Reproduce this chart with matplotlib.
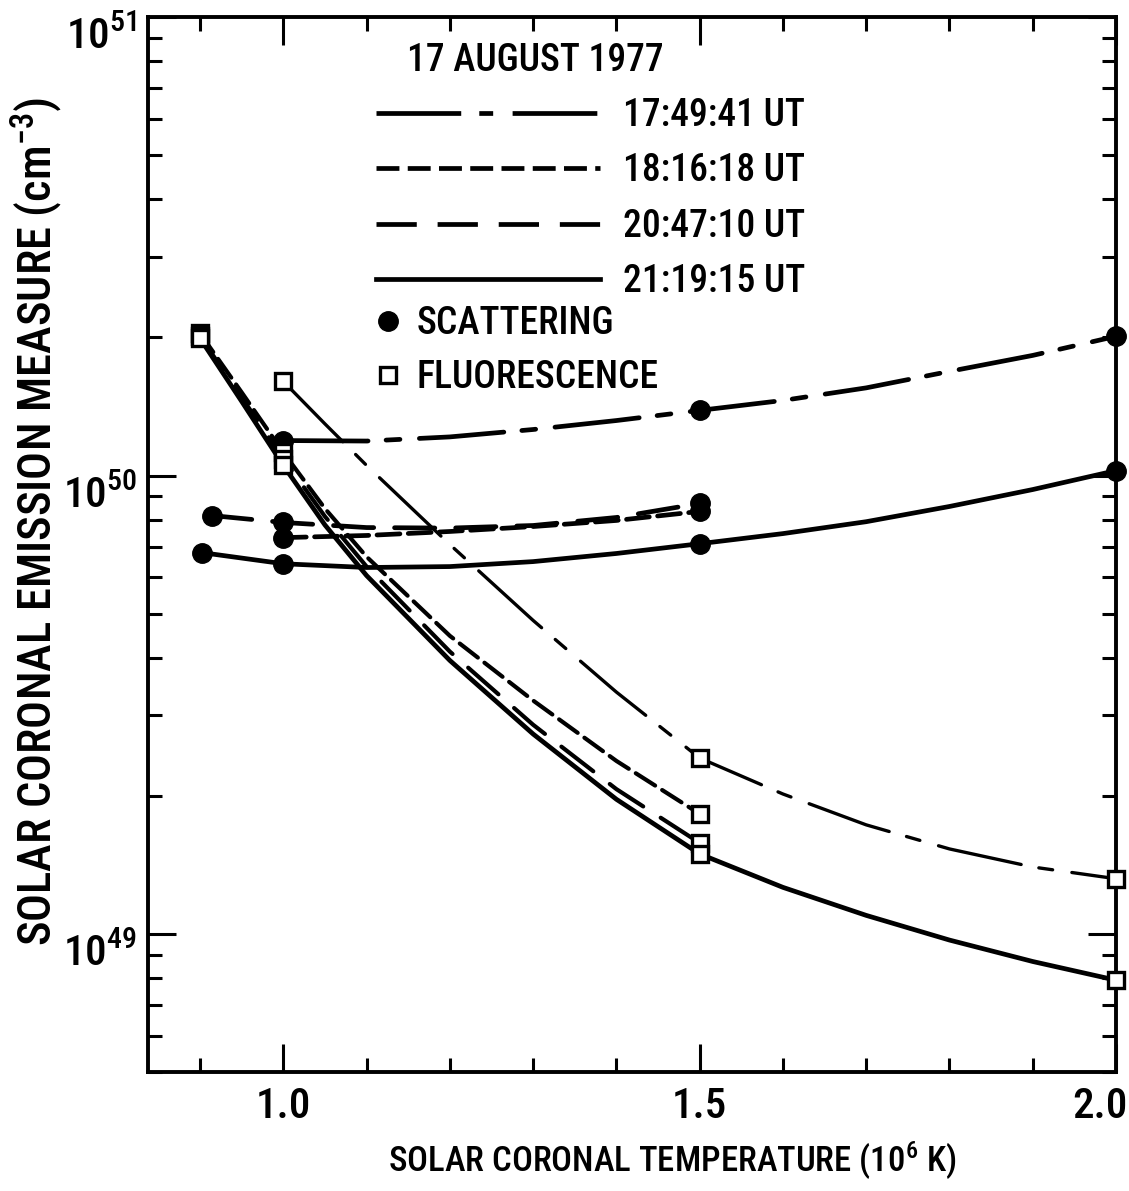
import math
import matplotlib
matplotlib.use("Agg")
import matplotlib.pyplot as plt
from matplotlib import font_manager
from matplotlib.lines import Line2D
from matplotlib.transforms import ScaledTranslation
from matplotlib.ticker import FixedLocator, LogLocator, FuncFormatter, NullFormatter

# busco la font mes estreta que hi hagi (la figura original es molt condensada)
noms = {f.name for f in font_manager.fontManager.ttflist}
FONT, K = 'DejaVu Sans', 0.78
for nom, k in [('Roboto Condensed', 1.0), ('Liberation Sans Narrow', 1.0),
               ('DejaVu Sans Condensed', 0.85), ('Liberation Sans', 0.87)]:
    if nom in noms:
        FONT, K = nom, k
        break

plt.rcParams['font.family'] = [FONT, 'DejaVu Sans']
plt.rcParams['font.weight'] = 'medium'
plt.rcParams['axes.labelweight'] = 'medium'
plt.rcParams['mathtext.fontset'] = 'custom'
plt.rcParams['mathtext.rm'] = FONT + ':medium'
plt.rcParams['mathtext.it'] = FONT
plt.rcParams['lines.scale_dashes'] = False

E49 = 1e49   # tots els valors estan en unitats de 1e49 cm^-3

temps = ['17:49:41', '18:16:18', '20:47:10', '21:19:15']

# punts de dispersio (cercles plens)
sc_x_1749 = [1.0, 1.5, 2.0]
sc_y_1749 = [11.92, 13.87, 20.12]
sc_x_1816 = [1.0, 1.5]
sc_y_1816 = [7.32, 8.35]
sc_x_2047 = [0.914, 1.0, 1.5]
sc_y_2047 = [8.18, 7.90, 8.69]
sc_x_2119 = [0.902, 1.0, 1.5, 2.0]
sc_y_2119 = [6.79, 6.42, 7.10, 10.25]

# punts de fluorescencia (quadrats buits)
fl_x_1749 = [1.0, 1.5, 2.0]
fl_y_1749 = [16.04, 2.42, 1.32]
fl_x_1816 = [0.9, 1.0, 1.5]
fl_y_1816 = [20.42, 11.23, 1.828]
fl_x_2047 = [0.9, 1.0, 1.5]
fl_y_2047 = [20.12, 10.89, 1.58]
fl_x_2119 = [0.9, 1.0, 1.5, 2.0]
fl_y_2119 = [19.91, 10.52, 1.495, 0.793]

# corbes dibuixades a ma, llegides sobre la figura
cs_x_1749 = [1.0, 1.1, 1.2, 1.3, 1.4, 1.5, 1.6, 1.7, 1.8, 1.9, 2.0]
cs_y_1749 = [11.92, 11.89, 12.14, 12.60, 13.18, 13.87, 14.58, 15.53, 16.87, 18.28, 20.12]
cs_x_1816 = [1.0, 1.1, 1.2, 1.3, 1.4, 1.5]
cs_y_1816 = [7.32, 7.40, 7.55, 7.74, 7.98, 8.35]
cs_x_2047 = [0.914, 0.95, 1.0, 1.1, 1.2, 1.3, 1.4, 1.5]
cs_y_2047 = [8.18, 8.06, 7.90, 7.70, 7.68, 7.78, 8.10, 8.69]
cs_x_2119 = [0.902, 1.0, 1.1, 1.2, 1.3, 1.4, 1.5, 1.6, 1.7, 1.8, 1.9, 2.0]
cs_y_2119 = [6.79, 6.42, 6.30, 6.33, 6.49, 6.76, 7.10, 7.47, 7.93, 8.56, 9.32, 10.25]

cf_x_1749 = [1.0, 1.05, 1.1, 1.2, 1.3, 1.4, 1.5, 1.6, 1.7, 1.8, 1.9, 2.0]
cf_y_1749 = [16.04, 12.96, 10.52, 7.07, 4.83, 3.37, 2.42, 2.02, 1.73, 1.533, 1.40, 1.32]
cf_x_1816 = [0.9, 0.95, 1.0, 1.05, 1.1, 1.2, 1.3, 1.4, 1.5]
cf_y_1816 = [20.42, 15.18, 11.23, 8.47, 6.65, 4.47, 3.23, 2.385, 1.828]
cf_x_2047 = [0.9, 0.95, 1.0, 1.05, 1.1, 1.2, 1.3, 1.4, 1.5]
cf_y_2047 = [20.12, 14.80, 10.89, 8.14, 6.33, 4.13, 2.86, 2.07, 1.58]
cf_x_2119 = [0.9, 0.95, 1.0, 1.05, 1.1, 1.2, 1.3, 1.4, 1.5, 1.6, 1.7, 1.8, 1.9, 2.0]
cf_y_2119 = [19.91, 14.51, 10.52, 7.80, 6.05, 3.95, 2.73, 1.967, 1.495, 1.264, 1.098, 0.970, 0.871, 0.793]

# estil de linia per a cada hora
estil = {
    '17:49:41': (0, (61, 13, 10, 14)),
    '18:16:18': (0, (16.5, 6)),
    '20:47:10': (0, (29, 15)),
    '21:19:15': '-',
}
LW = 3.4

corbes_sc = {
    '17:49:41': (cs_x_1749, cs_y_1749, LW),
    '18:16:18': (cs_x_1816, cs_y_1816, LW),
    '20:47:10': (cs_x_2047, cs_y_2047, LW),
    '21:19:15': (cs_x_2119, cs_y_2119, LW),
}
corbes_fl = {
    '17:49:41': (cf_x_1749, cf_y_1749, 2.4),
    '18:16:18': (cf_x_1816, cf_y_1816, 3.0),
    '20:47:10': (cf_x_2047, cf_y_2047, 3.0),
    '21:19:15': (cf_x_2119, cf_y_2119, LW),
}
punts_sc = [(sc_x_1749, sc_y_1749), (sc_x_1816, sc_y_1816),
            (sc_x_2047, sc_y_2047), (sc_x_2119, sc_y_2119)]
punts_fl = [(fl_x_1749, fl_y_1749), (fl_x_1816, fl_y_1816),
            (fl_x_2047, fl_y_2047), (fl_x_2119, fl_y_2119)]

# mides de lletra (ajustades segons la font trobada)
fs_leg = 27 * K
fs_tick = 31 * K
fs_xlab = 25 * K
fs_ylab = 33.5 * K
em = fs_leg / 0.72   # px per em a dpi 100

fig = plt.figure(figsize=(11.29, 11.91), dpi=100)
ax = fig.add_axes([0.1311, 0.0999, 0.8574, 0.8858])

for t in temps:
    for corbes in (corbes_sc, corbes_fl):
        xs, ys, lw = corbes[t]
        ax.plot(xs, [v * E49 for v in ys], color='black', lw=lw, ls=estil[t],
                dash_capstyle='round', solid_capstyle='round', zorder=2)

for xs, ys in punts_sc:
    ax.plot(xs, [v * E49 for v in ys], ls='none', marker='o', ms=14,
            mfc='black', mec='black', zorder=4, clip_on=False)
for xs, ys in punts_fl:
    ax.plot(xs, [v * E49 for v in ys], ls='none', marker='s', ms=12,
            mfc='white', mec='black', mew=2.4, zorder=5, clip_on=False)

ax.set_yscale('log')
ax.set_xlim(0.8375, 2.0)
ax.set_ylim(5e48, 1e51)

ax.xaxis.set_major_locator(FixedLocator([1.0, 1.5, 2.0]))
ax.xaxis.set_minor_locator(FixedLocator([0.9, 1.1, 1.2, 1.3, 1.4, 1.6, 1.7, 1.8, 1.9]))
ax.xaxis.set_major_formatter(FuncFormatter(lambda v, p: f'{v:.1f}'))
ax.yaxis.set_major_locator(FixedLocator([1e49, 1e50, 1e51]))
ax.yaxis.set_minor_locator(LogLocator(base=10, subs=range(2, 10)))
ax.yaxis.set_minor_formatter(NullFormatter())
ax.yaxis.set_major_formatter(FuncFormatter(
    lambda v, p: r'$\mathregular{10^{%d}}$' % round(math.log10(v))))

ax.tick_params(which='both', direction='in', top=True, right=True, width=2.2)
ax.tick_params(which='major', length=20, labelsize=fs_tick)
ax.tick_params(which='minor', length=10)
ax.tick_params(axis='y', which='major', pad=8)
ax.tick_params(axis='x', which='major', pad=10)
for s in ax.spines.values():
    s.set_linewidth(2.8)

ax.set_xlabel(r'SOLAR CORONAL TEMPERATURE (10$^{6}$ K)', fontsize=fs_xlab)
ax.xaxis.label.set_verticalalignment('baseline')
ax.xaxis.set_label_coords(0.541, -0.0948)
ax.set_ylabel(r'SOLAR CORONAL EMISSION MEASURE (cm$^{-3}$)', fontsize=fs_ylab)
ax.yaxis.set_label_coords(-0.0855, 0.522)

# llegenda: titol, linies i marcadors
ax.text(0.2676, 0.9592, '17 AUGUST 1977', transform=ax.transAxes,
        fontsize=fs_leg, ha='left', va='center')

h_lin = [Line2D([], [], color='black', lw=LW, ls=estil[t]) for t in temps]
leg1 = ax.legend(h_lin, [f'{t} UT' for t in temps], loc='upper left',
                 bbox_to_anchor=(0.2355, 0.9242), frameon=False, fontsize=fs_leg,
                 handlelength=224 / em, handletextpad=23 / em,
                 labelspacing=(54.7 - 0.97 * em) / em,
                 borderpad=0, borderaxespad=0)
ax.add_artist(leg1)

h_mk = [Line2D([], [], ls='none', marker='o', ms=14, mfc='black', mec='black'),
        Line2D([], [], ls='none', marker='s', ms=11, mfc='white', mec='black', mew=2.4)]
ax.legend(h_mk, ['SCATTERING', 'FLUORESCENCE'], loc='upper left',
          bbox_to_anchor=(0.2355, 0.727), frameon=False, fontsize=fs_leg,
          handlelength=24 / em, handletextpad=17 / em,
          labelspacing=(53 - 0.97 * em) / em,
          borderpad=0, borderaxespad=0, numpoints=1)

# retocs de posicio d'etiquetes: 2.0 una mica a l'esquerra, 10^n una mica avall
fig.canvas.draw()
xt = ax.xaxis.get_major_ticks()
xt[-1].label1.set_transform(xt[-1].label1.get_transform()
                            + ScaledTranslation(-0.16, 0, fig.dpi_scale_trans))
for tk in ax.yaxis.get_major_ticks():
    tk.label1.set_transform(tk.label1.get_transform()
                            + ScaledTranslation(0, -0.16, fig.dpi_scale_trans))

fig.savefig('out.png', dpi=100)
